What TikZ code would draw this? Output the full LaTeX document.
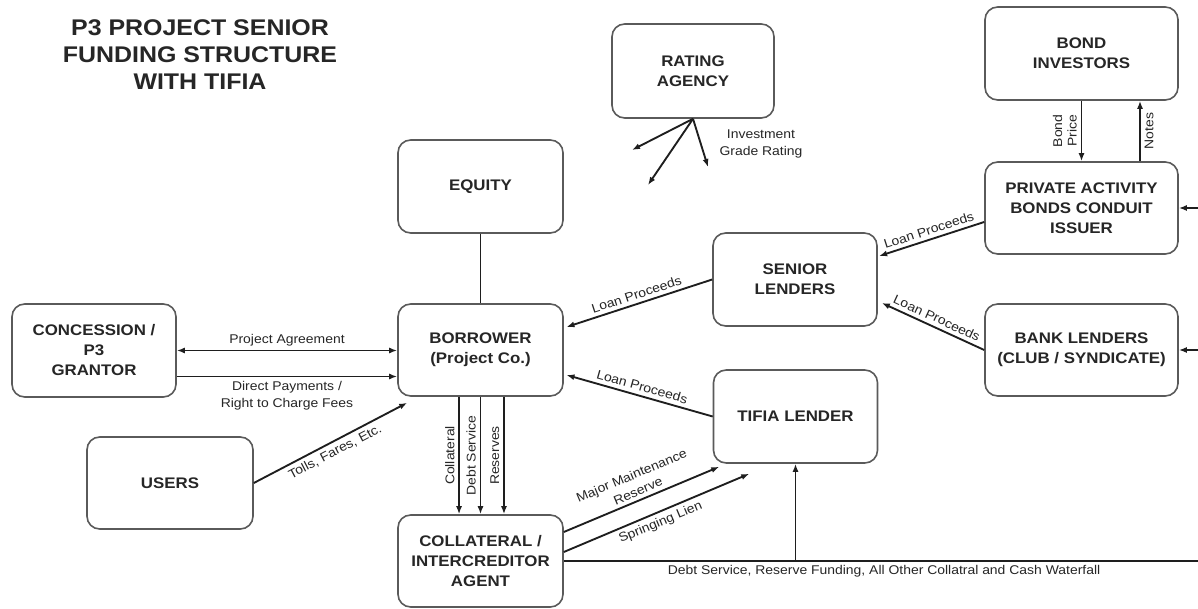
\documentclass[tikz,border=0pt]{standalone}
\usepackage{fontspec}
\setmainfont{Liberation Sans}[FakeStretch=1.1]
\usetikzlibrary{arrows.meta}
\definecolor{txt}{HTML}{262626}
\definecolor{bord}{HTML}{5A5A5A}
\definecolor{lnc}{HTML}{1E1E1E}
\begin{document}
\begin{tikzpicture}[x=0.75pt,y=-0.75pt,
  box/.style={draw=bord, line width=1.2pt, rounded corners=9.5pt, align=center,
    font=\bfseries\fontsize{11.5}{15}\selectfont, text=txt, inner sep=0pt},
  lab/.style={font=\fontsize{9.5}{12.5}\selectfont, text=txt, inner sep=2.8pt, align=center},
  arr/.style={draw=lnc, line width=1.4pt, -{Latex[length=6pt,width=4.5pt]}},
  darr/.style={draw=lnc, line width=1.4pt, {Latex[length=6pt,width=4.5pt]}-{Latex[length=6pt,width=4.5pt]}},
  conn/.style={draw=lnc, line width=1.4pt}]
\useasboundingbox (0,0) rectangle (1198,609);
\fill[white] (0,0) rectangle (1198,609);

% title
\node[font=\bfseries\fontsize{17}{20.25}\selectfont, text=black!85, align=center] (title) at (200,55)
  {P3 PROJECT SENIOR\\FUNDING STRUCTURE\\WITH TIFIA};

% boxes
\node[box, minimum width=121.5pt, minimum height=70.5pt] (rating) at (693,71) {RATING\\AGENCY};
\node[box, minimum width=144.75pt, minimum height=69.75pt] (bond) at (1081.5,53.5) {BOND\\INVESTORS};
\node[box, minimum width=144.75pt, minimum height=69pt] (pab) at (1081.5,208) {PRIVATE ACTIVITY\\BONDS CONDUIT\\ISSUER};
\node[box, minimum width=123.75pt, minimum height=69.75pt] (equity) at (480.5,186.5) {EQUITY};
\node[box, minimum width=123pt, minimum height=69.75pt] (senior) at (795,279.5) {SENIOR\\LENDERS};
\node[box, minimum width=144.75pt, minimum height=69pt] (bank) at (1081.5,350) {BANK LENDERS\\(CLUB / SYNDICATE)};
\node[box, minimum width=123pt, minimum height=69.75pt] (grantor) at (94,350.5) {CONCESSION /\\P3\\GRANTOR};
\node[box, minimum width=123.75pt, minimum height=69pt] (borrower) at (480.5,350) {BORROWER\\(Project Co.)};
\node[box, minimum width=123pt, minimum height=69.75pt] (tifia) at (795.5,416.5) {TIFIA LENDER};
\node[box, minimum width=124.5pt, minimum height=69pt] (users) at (170,483) {USERS};
\node[box, minimum width=123.75pt, minimum height=69pt] (agent) at (480.5,561) {COLLATERAL /\\INTERCREDITOR\\AGENT};

% free ends
\coordinate (r1) at (632,150);
\coordinate (r2) at (648,185);
\coordinate (r3) at (708,167);
\coordinate (e1) at (1198,208);
\coordinate (e2) at (1198,350);
\coordinate (e3) at (1198,561);
\coordinate (nx) at (1140,0);

% rating agency
\draw[arr] (rating.south) -- (r1);
\draw[arr] (rating.south) -- (r2);
\draw[arr] (rating.south) -- (r3);
\node[lab] (igr) at (761,144) {Investment\\Grade Rating};

% bonds
\draw[arr] (bond.south) -- node[lab, rotate=90, anchor=south, font=\fontsize{9.5}{11}\selectfont] {Bond\\Price} (pab.north);
\draw[arr] (pab.north -| nx) -- node[lab, rotate=90, anchor=north] {Notes} (bond.south -| nx);
\draw[arr] (e1) -- (pab.east);
\draw[arr] (e2) -- (bank.east);

% lenders
\draw[arr] ([yshift=-10.5pt]pab.west) -- node[lab, sloped, above] {Loan Proceeds} ([xshift=1pt,yshift=17.6pt]senior.east);
\draw[arr] (bank.west) -- node[lab, sloped, above] {Loan Proceeds} ([xshift=3pt,yshift=-17.6pt]senior.east);
\draw[arr] (senior.west) -- node[lab, sloped, above] {Loan Proceeds} ([xshift=2pt,yshift=17.25pt]borrower.east);
\draw[arr] (tifia.west) -- node[lab, sloped, above] {Loan Proceeds} ([xshift=2pt,yshift=-18.75pt]borrower.east);

% equity
\draw[conn] (equity.south) -- (borrower.north);

% grantor
\draw[darr] (grantor.east) -- node[lab, above] {Project Agreement} (grantor.east -| borrower.west);
\draw[arr] ([yshift=-19.5pt]grantor.east) -- node[lab, below] {Direct Payments /\\Right to Charge Fees} ([yshift=-19.5pt]grantor.east -| borrower.west);

% users
\draw[arr] (users.east) -- node[lab, sloped, below] {Tolls, Fares, Etc.} ([xshift=7.5pt,yshift=-4.5pt]borrower.south west);

% borrower to agent
\draw[arr] ([xshift=-16.1pt]borrower.south) -- node[lab, rotate=90, anchor=south] {Collateral} ([xshift=-16.1pt]agent.north);
\draw[arr] (borrower.south) -- node[lab, rotate=90, anchor=south] {Debt Service} (agent.north);
\draw[arr] ([xshift=17.6pt]borrower.south) -- node[lab, rotate=90, anchor=south] {Reserves} ([xshift=17.6pt]agent.north);

% agent to tifia
\draw[arr] ([yshift=21.75pt]agent.east) -- node[lab, sloped, above] {Major Maintenance\\Reserve} ([xshift=4.9pt,yshift=-2.25pt]tifia.south west);
\draw[arr] ([yshift=6.75pt]agent.east) -- node[lab, sloped, below] {Springing Lien} ([xshift=27.4pt,yshift=-7.5pt]tifia.south west);

% waterfall
\draw[conn] (agent.east) -- node[lab, below, pos=0.505] {Debt Service, Reserve Funding, All Other Collatral and Cash Waterfall} (e3);
\draw[arr] (tifia.south |- agent.east) -- (tifia.south);
\end{tikzpicture}
\end{document}
